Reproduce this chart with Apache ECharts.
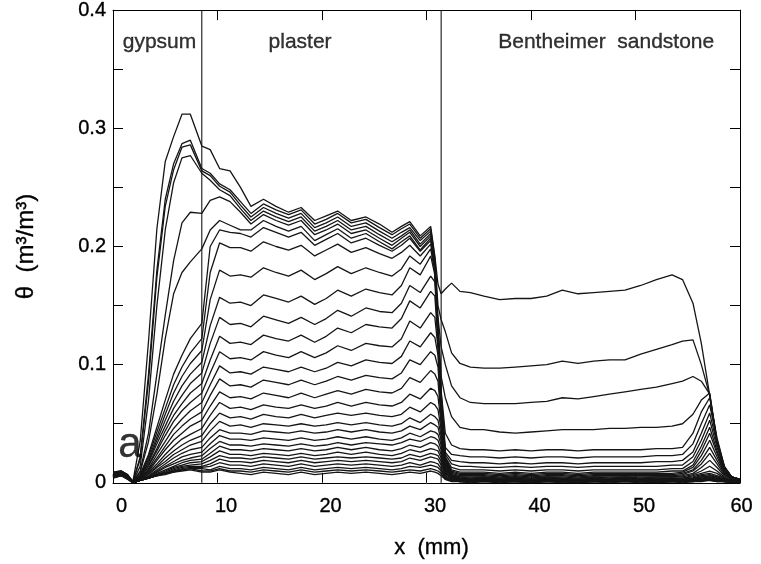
<!DOCTYPE html>
<html>
<head>
<meta charset="utf-8">
<script src="https://cdn.jsdelivr.net/npm/echarts@6/dist/echarts.min.js"></script>
<style>
  html, body { margin: 0; padding: 0; background: #fff; }
  #chart { width: 761px; height: 564px; }
</style>
</head>
<body>
<div id="chart"></div>
<script>
// positions along the sample (mm), one block per material
const gypsumX = [0, 0.8, 1.4, 1.9, 2.6, 3.4, 4.2, 5.0, 5.8, 6.6, 7.4, 8.5];
const plasterX = [9.3, 10.2, 11.2, 12.2, 13.2, 14.4, 15.6, 16.8, 18.0, 19.3, 20.4, 21.5, 22.8,
  24.2, 25.5, 26.7, 27.6, 28.4, 29.4, 30.4, 30.8, 31.1, 31.4, 31.8, 32.4];
const sandstoneX = [33.2, 34.2, 35.5, 37, 38.5, 40, 41.5, 43, 44.5, 46, 47.5, 49, 50.5, 52,
  53.5, 54.5, 55.5, 56.3, 57.1, 57.8, 58.5, 59.2, 60];

// moisture content, in 1e-3 m3/m3, one row per profile (wettest first)
const gypsumTheta = [
  [9, 10, 7, 1, 35, 120, 215, 272, 293, 312, 312, 285],
  [9, 10, 7, 1, 22, 92, 180, 240, 270, 287, 290, 266],
  [8, 10, 6, 1, 20, 86, 174, 234, 265, 284, 286, 264],
  [8, 9, 6, 1, 14, 70, 150, 214, 254, 275, 277, 262],
  [8, 9, 6, 1, 10, 42, 92, 142, 188, 220, 229, 228],
  [7, 9, 6, 0, 9, 35, 75, 122, 160, 178, 187, 198],
  [7, 9, 5, 0, 7, 24, 47, 70, 92, 108, 122, 135],
  [7, 9, 5, 0, 6, 22, 43, 63, 83, 98, 110, 122],
  [7, 9, 5, 0, 6, 20, 39, 58, 76, 90, 101, 112],
  [7, 9, 5, 0, 5, 18, 36, 53, 69, 82, 92, 102],
  [7, 9, 5, 0, 5, 17, 33, 48, 63, 74, 84, 93],
  [7, 9, 5, 0, 4, 15, 29, 44, 57, 67, 76, 84],
  [7, 8, 5, 0, 4, 14, 27, 40, 52, 61, 68, 76],
  [7, 8, 5, 0, 3, 12, 24, 35, 46, 54, 61, 68],
  [6, 8, 5, 0, 3, 11, 21, 31, 41, 48, 54, 60],
  [6, 8, 4, 0, 3, 10, 19, 28, 36, 42, 48, 53],
  [6, 8, 4, 0, 3, 9, 16, 24, 31, 37, 41, 46],
  [6, 8, 4, 0, 2, 8, 14, 21, 27, 32, 36, 40],
  [6, 8, 4, 0, 2, 7, 13, 18, 24, 28, 32, 35],
  [6, 8, 4, 0, 2, 6, 11, 16, 21, 25, 28, 30],
  [6, 7, 4, 0, 2, 5, 10, 14, 18, 22, 24, 26],
  [5, 7, 4, 0, 2, 5, 9, 13, 16, 19, 21, 23],
  [5, 7, 4, 0, 2, 4, 8, 11, 14, 17, 19, 20],
  [5, 7, 4, 0, 2, 4, 7, 10, 13, 15, 17, 18],
  [5, 7, 4, 0, 2, 4, 7, 9, 12, 14, 15, 16],
  [5, 7, 4, 0, 2, 4, 6, 8, 11, 13, 14, 14],
  [5, 6, 4, 0, 2, 4, 6, 8, 10, 12, 13, 13],
  [5, 6, 3, 0, 2, 4, 6, 8, 10, 11, 12, 12],
  [4, 6, 3, 0, 2, 4, 6, 8, 9, 11, 12, 10],
  [4, 6, 3, 0, 2, 4, 6, 7, 9, 10, 11, 9]
];
const plasterTheta = [
  [282, 266, 264, 250, 234, 240, 234, 229, 233, 222, 226, 230, 222, 225, 219, 212, 217, 221, 209, 217, 192, 168, 160, 164, 169],
  [262, 253, 248, 238, 228, 236, 231, 227, 231, 219, 223, 228, 220, 223, 216, 210, 215, 219, 207, 215, 190, 150, 138, 128, 110],
  [260, 251, 246, 235, 225, 233, 228, 224, 228, 216, 220, 225, 217, 220, 213, 207, 212, 216, 205, 213, 188, 140, 115, 100, 82],
  [256, 248, 243, 232, 222, 230, 225, 221, 225, 213, 217, 222, 214, 217, 210, 204, 209, 214, 202, 211, 186, 135, 90, 72, 56],
  [239, 242, 238, 229, 219, 227, 222, 218, 222, 210, 214, 219, 211, 214, 207, 201, 207, 212, 200, 209, 184, 132, 78, 42, 32],
  [214, 222, 218, 214, 214, 222, 217, 213, 217, 205, 210, 215, 207, 211, 204, 198, 204, 209, 197, 207, 182, 130, 76, 30, 24],
  [200, 214, 212, 211, 208, 216, 212, 208, 212, 201, 206, 211, 203, 207, 201, 196, 201, 207, 196, 205, 182, 130, 74, 26, 19],
  [178, 203, 199, 199, 196, 204, 200, 197, 201, 192, 197, 202, 195, 199, 194, 190, 195, 201, 192, 202, 180, 128, 72, 24, 16],
  [155, 180, 175, 176, 174, 182, 178, 175, 180, 172, 177, 183, 177, 182, 178, 175, 181, 192, 185, 198, 178, 126, 70, 22, 13],
  [133, 157, 152, 153, 150, 159, 156, 153, 158, 151, 156, 163, 158, 164, 161, 159, 167, 182, 176, 192, 176, 124, 68, 21, 11],
  [118, 140, 134, 135, 132, 141, 138, 135, 140, 134, 139, 146, 141, 148, 145, 144, 152, 167, 161, 175, 170, 122, 66, 20, 10],
  [104, 124, 118, 119, 117, 125, 122, 120, 125, 119, 124, 131, 127, 134, 132, 131, 139, 154, 148, 162, 158, 118, 64, 19, 9],
  [93, 111, 105, 106, 104, 111, 108, 106, 111, 106, 110, 116, 112, 118, 116, 115, 122, 137, 131, 144, 140, 114, 62, 18, 8],
  [83, 99, 93, 94, 92, 98, 96, 94, 98, 94, 97, 102, 99, 104, 102, 101, 107, 120, 115, 127, 123, 108, 60, 17, 7],
  [74, 88, 82, 83, 81, 87, 85, 83, 87, 83, 86, 90, 87, 91, 89, 88, 93, 104, 100, 111, 108, 98, 58, 16, 7],
  [65, 77, 72, 73, 71, 76, 74, 72, 76, 72, 75, 78, 75, 79, 77, 76, 80, 89, 85, 95, 92, 86, 55, 15, 6],
  [57, 68, 63, 64, 62, 66, 64, 63, 66, 63, 65, 68, 65, 68, 66, 65, 68, 75, 71, 80, 78, 73, 50, 14, 6],
  [50, 59, 55, 56, 54, 58, 56, 55, 58, 55, 57, 59, 57, 59, 57, 56, 58, 64, 60, 68, 66, 62, 45, 13, 6],
  [44, 52, 48, 49, 47, 50, 49, 48, 50, 48, 49, 51, 49, 51, 49, 48, 50, 55, 51, 58, 56, 53, 40, 12, 5],
  [38, 45, 42, 42, 41, 44, 43, 42, 44, 42, 43, 45, 43, 45, 43, 42, 44, 48, 45, 51, 49, 47, 36, 11, 5],
  [33, 40, 37, 37, 36, 38, 37, 36, 38, 36, 37, 39, 37, 39, 37, 36, 38, 42, 39, 44, 43, 41, 32, 10, 5],
  [29, 35, 32, 32, 31, 33, 32, 31, 33, 31, 32, 34, 32, 34, 33, 32, 34, 37, 35, 39, 38, 36, 28, 9, 4],
  [25, 31, 28, 28, 27, 29, 28, 27, 29, 27, 28, 30, 28, 30, 28, 27, 29, 32, 30, 34, 33, 31, 24, 8, 4],
  [22, 27, 24, 24, 23, 25, 24, 23, 25, 23, 24, 26, 24, 26, 24, 23, 25, 28, 26, 29, 28, 27, 21, 7, 4],
  [19, 23, 21, 21, 20, 22, 21, 20, 22, 20, 21, 22, 21, 22, 21, 20, 21, 24, 22, 25, 24, 23, 18, 6, 3],
  [16, 20, 18, 18, 17, 19, 18, 17, 19, 17, 18, 19, 18, 19, 18, 17, 18, 21, 19, 22, 21, 20, 15, 5, 3],
  [14, 17, 15, 15, 14, 16, 15, 14, 16, 14, 15, 16, 15, 16, 15, 14, 15, 17, 15, 18, 17, 16, 12, 4, 2],
  [11, 14, 12, 12, 11, 13, 12, 11, 13, 11, 12, 13, 12, 13, 12, 11, 12, 14, 13, 15, 14, 13, 10, 4, 2],
  [10, 12, 10, 10, 9, 11, 10, 9, 11, 9, 10, 11, 10, 11, 10, 9, 10, 11, 10, 12, 11, 10, 8, 3, 2],
  [9, 11, 9, 8, 7, 9, 8, 7, 9, 7, 8, 9, 8, 9, 8, 7, 8, 9, 8, 10, 9, 8, 6, 3, 1]
];
const sandstoneTheta = [
  [162, 161, 158, 155, 156, 156, 158, 163, 160, 161, 162, 163, 167, 172, 176, 172, 152, 118, 74, 34, 13, 5, 3],
  [101, 98, 97, 97, 98, 99, 100, 103, 101, 103, 104, 104, 109, 113, 117, 120, 121, 100, 74, 34, 13, 5, 3],
  [72, 68, 67, 67, 67, 68, 69, 72, 71, 73, 75, 77, 79, 81, 84, 86, 90, 86, 75, 34, 13, 5, 3],
  [47, 45, 45, 43, 42, 43, 44, 45, 45, 45, 46, 46, 47, 47, 48, 50, 58, 70, 76, 36, 14, 5, 3],
  [29, 28, 28, 27, 28, 27, 28, 28, 27, 28, 28, 28, 28, 29, 29, 30, 42, 60, 72, 38, 14, 5, 3],
  [23, 22, 22, 21, 22, 21, 22, 22, 21, 22, 22, 22, 22, 23, 23, 24, 33, 50, 66, 36, 13, 5, 3],
  [18, 17, 17, 16, 17, 16, 17, 17, 16, 17, 17, 17, 17, 18, 18, 19, 26, 42, 59, 33, 12, 5, 3],
  [14, 14, 13, 13, 14, 13, 14, 14, 13, 14, 14, 14, 14, 14, 15, 15, 22, 36, 53, 30, 11, 4, 2],
  [11, 11, 11, 10, 11, 10, 11, 11, 10, 11, 11, 11, 11, 11, 12, 12, 18, 31, 47, 27, 10, 4, 2],
  [9, 9, 9, 8, 9, 8, 9, 9, 8, 9, 9, 9, 9, 9, 10, 10, 15, 27, 42, 25, 9, 4, 2],
  [8, 8, 8, 7, 8, 7, 8, 8, 7, 8, 8, 8, 8, 8, 8, 9, 13, 23, 36, 22, 9, 3, 2],
  [7, 7, 7, 6, 7, 6, 7, 7, 6, 7, 7, 7, 7, 7, 7, 8, 11, 19, 30, 19, 8, 3, 2],
  [6, 6, 6, 5, 6, 5, 6, 6, 5, 6, 6, 6, 6, 6, 6, 7, 10, 16, 25, 16, 7, 3, 2],
  [5, 5, 5, 4, 5, 4, 5, 5, 4, 5, 5, 5, 5, 5, 5, 6, 8, 13, 19, 13, 6, 3, 1],
  [5, 4, 5, 4, 5, 4, 5, 4, 4, 5, 4, 5, 4, 5, 5, 5, 7, 10, 14, 10, 5, 2, 1],
  [4, 4, 4, 3, 4, 3, 4, 4, 3, 4, 4, 4, 4, 4, 4, 4, 6, 8, 10, 8, 4, 2, 1],
  [4, 3, 4, 3, 4, 3, 4, 3, 3, 4, 3, 4, 3, 4, 4, 4, 5, 7, 8, 6, 4, 2, 1],
  [3, 3, 4, 3, 3, 3, 4, 3, 3, 3, 3, 4, 3, 3, 4, 3, 4, 6, 7, 5, 3, 2, 1],
  [3, 3, 3, 3, 3, 2, 3, 3, 2, 3, 3, 3, 3, 3, 3, 3, 4, 5, 6, 5, 3, 2, 1],
  [3, 2, 3, 2, 3, 2, 3, 3, 2, 3, 2, 3, 3, 2, 3, 3, 4, 5, 5, 4, 3, 1, 1],
  [3, 2, 3, 2, 2, 2, 3, 2, 2, 3, 2, 3, 2, 2, 3, 2, 3, 4, 5, 4, 2, 1, 1],
  [2, 2, 3, 2, 2, 2, 2, 2, 2, 2, 2, 3, 2, 2, 2, 2, 3, 4, 4, 3, 2, 1, 1],
  [2, 2, 2, 2, 2, 2, 2, 2, 1, 2, 2, 2, 2, 2, 2, 2, 3, 3, 4, 3, 2, 1, 1],
  [2, 2, 2, 1, 2, 1, 2, 2, 1, 2, 2, 2, 2, 1, 2, 2, 2, 3, 3, 3, 2, 1, 1],
  [2, 1, 2, 1, 2, 1, 2, 1, 1, 2, 1, 2, 1, 1, 2, 1, 2, 3, 3, 2, 2, 1, 1],
  [2, 1, 2, 1, 1, 1, 2, 1, 1, 1, 1, 2, 1, 1, 1, 1, 2, 2, 3, 2, 1, 1, 1],
  [1, 1, 2, 1, 1, 1, 1, 1, 1, 1, 1, 1, 1, 1, 1, 1, 2, 2, 2, 2, 1, 1, 1],
  [1, 1, 1, 1, 1, 1, 1, 1, 1, 1, 1, 1, 1, 1, 1, 1, 1, 2, 2, 2, 1, 1, 0],
  [1, 1, 1, 1, 1, 0, 1, 1, 0, 1, 1, 1, 1, 0, 1, 1, 1, 2, 2, 1, 1, 0, 0],
  [1, 0, 1, 0, 1, 0, 1, 0, 0, 1, 0, 1, 0, 0, 1, 0, 1, 1, 2, 1, 1, 0, 0]
];

// material interfaces (mm) and their names
const interfaces = [8.5, 31.4];
const materials = ['gypsum', 'plaster', 'Bentheimer  sandstone'];

const xTickLabels = ['0', '10', '20', '30', '40', '50', '60'];
const yTickLabels = ['0', '0.1', '0.2', '0.3', '0.4'];

const FONT = '"Liberation Sans", Arial, Helvetica, sans-serif';
const INK = '#000';
// a hairline outline makes the text as heavy as the printed original
const heavy = { textBorderColor: INK, textBorderWidth: 0.35 };

function profile(i) {
  const pts = [];
  gypsumX.forEach((x, j) => pts.push([x, gypsumTheta[i][j] / 1000]));
  plasterX.forEach((x, j) => pts.push([x, plasterTheta[i][j] / 1000]));
  sandstoneX.forEach((x, j) => pts.push([x, sandstoneTheta[i][j] / 1000]));
  return pts;
}

const series = [];
for (let i = 0; i < gypsumTheta.length; i++) {
  series.push({
    name: 'profile ' + (i + 1),
    type: 'line',
    data: profile(i),
    showSymbol: false,
    silent: true,
    lineStyle: { color: '#151515', width: 1.3 },
    z: 3
  });
}
interfaces.forEach((x) => {
  series.push({
    type: 'line',
    data: [[x, 0], [x, 0.4]],
    showSymbol: false,
    silent: true,
    lineStyle: { color: '#000', width: 1 },
    z: 2
  });
});
// text annotations placed in data coordinates
series.push({
  type: 'scatter',
  symbolSize: 0,
  silent: true,
  z: 5,
  label: Object.assign({ show: true, position: 'inside', color: INK, fontFamily: FONT, fontSize: 21 }, heavy),
  data: [
    { value: [4.45, 0.373], label: { formatter: materials[0] } },
    { value: [17.9, 0.373], label: { formatter: materials[1] } },
    { value: [47.2, 0.373], label: { formatter: materials[2] } },
    { value: [1.63, 0.032], label: { formatter: 'a', fontSize: 42 } }
  ]
});

// fresh style objects for every axis; negative length points the ticks into the plot
const frame = () => ({ show: true, onZero: false, lineStyle: { color: '#000', width: 1 } });
const ticks = () => ({ show: true, inside: false, length: -10, lineStyle: { color: '#000', width: 1 } });
const tickText = (extra) => Object.assign({ fontFamily: FONT, fontSize: 20, color: INK }, heavy, extra);

const chart = echarts.init(document.getElementById('chart'));
chart.setOption({
  animation: false,
  backgroundColor: '#fff',
  grid: { left: 113, right: 21, top: 10, bottom: 81, containLabel: false },
  xAxis: [
    {
      type: 'value', position: 'bottom', min: 0, max: 60, interval: 10,
      axisLine: frame(), axisTick: ticks(), splitLine: { show: false },
      axisLabel: {
        margin: 14, showMinLabel: true, showMaxLabel: true,
        formatter: (v) => {
          const t = xTickLabels[Math.round(v / 10)];
          return v === 60 ? '{e|' + t + '}' : '{n|' + t + '}';
        },
        rich: {
          n: tickText({ padding: [0, 0, 0, 17] }),
          e: tickText({ padding: [0, 0, 0, 3] })
        }
      },
      name: 'x  (mm)', nameLocation: 'middle', nameGap: 54,
      nameTextStyle: Object.assign({ fontFamily: FONT, fontSize: 22, color: INK, padding: [0, 0, 0, 10] }, heavy)
    },
    {
      type: 'value', position: 'top', min: 0, max: 60, interval: 10,
      axisLine: frame(), axisTick: ticks(), axisLabel: { show: false }, splitLine: { show: false }
    }
  ],
  yAxis: [
    {
      type: 'value', position: 'left', min: 0, max: 0.4, interval: 0.05,
      axisLine: frame(), axisTick: ticks(), splitLine: { show: false },
      axisLabel: tickText({
        margin: 7, showMinLabel: true, showMaxLabel: true,
        formatter: (v) => {
          const k = Math.round(v * 20);
          return k % 2 ? '' : yTickLabels[k / 2];
        }
      }),
      name: 'θ  (m³/m³)', nameLocation: 'middle', nameRotate: 90, nameGap: 75,
      nameTextStyle: Object.assign({ fontFamily: FONT, fontSize: 24, color: INK }, heavy)
    },
    {
      type: 'value', position: 'right', min: 0, max: 0.4, interval: 0.05,
      axisLine: frame(), axisTick: ticks(), axisLabel: { show: false }, splitLine: { show: false }
    }
  ],
  series: series
});
</script>
</body>
</html>
